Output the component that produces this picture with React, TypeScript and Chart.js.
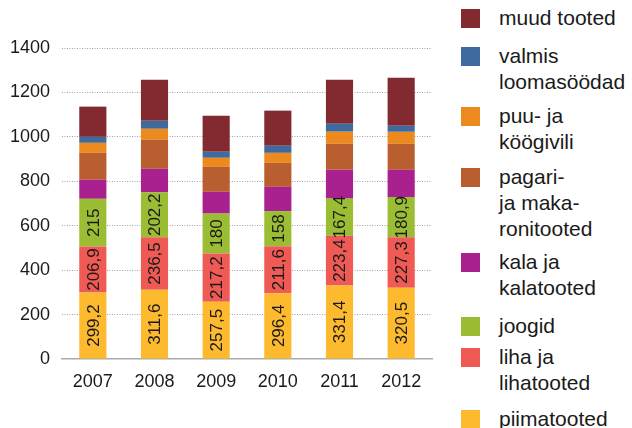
import React, { useEffect, useRef } from "react";
import { Chart, registerables } from "chart.js";

Chart.register(...registerables);

const years = ["2007", "2008", "2009", "2010", "2011", "2012"];

const piimatooted = [299.2, 311.6, 257.5, 296.4, 331.4, 320.5];
const lihatooted = [206.9, 236.5, 217.2, 211.6, 223.4, 227.3];
const joogid = [215, 202.2, 180, 158, 167.4, 180.9];
const kalatooted = [86, 106, 98, 109, 130, 123];
const pagaritooted = [121, 131, 112, 108, 117, 117];
const puuKoogivili = [45, 49, 41, 45, 54, 54];
const loomasoodad = [27, 36, 27, 32, 36, 27];
const muudTooted = [136, 185, 162, 158, 198, 216];

const yTicks = [0, 200, 400, 600, 800, 1000, 1200, 1400];

const seriesNames = [
  "piimatooted",
  "liha ja lihatooted",
  "joogid",
  "kala ja kalatooted",
  "pagari- ja makaronitooted",
  "puu- ja köögivili",
  "valmis loomasöödad",
  "muud tooted",
];
const seriesData = [
  piimatooted,
  lihatooted,
  joogid,
  kalatooted,
  pagaritooted,
  puuKoogivili,
  loomasoodad,
  muudTooted,
];
const seriesColors = [
  "#FDBA2F",
  "#F05A55",
  "#9BBD34",
  "#A9208F",
  "#B95E2E",
  "#ED8A1E",
  "#3F6A9F",
  "#822A2F",
];
const labelledSeries = ["piimatooted", "liha ja lihatooted", "joogid"];

// legend (top to bottom), lines of each label
const legendLines = [
  ["muud tooted"],
  ["valmis", "loomasöödad"],
  ["puu- ja", "köögivili"],
  ["pagari-", "ja maka-", "ronitooted"],
  ["kala ja", "kalatooted"],
  ["joogid"],
  ["liha ja", "lihatooted"],
  ["piimatooted"],
];
const legendColors = [
  "#822A2F",
  "#3F6A9F",
  "#ED8A1E",
  "#B95E2E",
  "#A9208F",
  "#9BBD34",
  "#F05A55",
  "#FDBA2F",
];
const legendTops = [5, 43, 103, 164, 249, 313, 344, 406];

const FONT = "'Liberation Sans', Arial, Helvetica, sans-serif";

const barLabelPlugin = {
  id: "barLabels",
  afterDatasetsDraw(chart: any) {
    const ctx = chart.ctx;
    ctx.save();
    ctx.fillStyle = "#1a1a1a";
    ctx.font = `17px ${FONT}`;
    ctx.textAlign = "center";
    ctx.textBaseline = "middle";
    chart.data.datasets.forEach((ds: any, di: number) => {
      if (!labelledSeries.includes(ds.label)) return;
      const meta = chart.getDatasetMeta(di);
      meta.data.forEach((el: any, i: number) => {
        const v = ds.data[i];
        const text = String(v).replace(".", ",");
        const cy = (el.y + el.base) / 2;
        ctx.save();
        ctx.translate(el.x, cy);
        ctx.rotate(-Math.PI / 2);
        ctx.fillText(text, 0, 1);
        ctx.restore();
      });
    });
    ctx.restore();
  },
};

function BarChart() {
  const ref = useRef<HTMLCanvasElement>(null);
  useEffect(() => {
    if (!ref.current) return;
    const chart = new Chart(ref.current, {
      type: "bar",
      data: {
        labels: years,
        datasets: seriesNames.map((name, i) => ({
          label: name,
          data: seriesData[i],
          backgroundColor: seriesColors[i],
          borderWidth: 0,
          barPercentage: 0.44,
          categoryPercentage: 1,
        })),
      },
      options: {
        animation: false,
        responsive: false,
        maintainAspectRatio: false,
        layout: { padding: { top: 48, right: 8, left: 0, bottom: 0 } },
        plugins: {
          legend: { display: false },
          tooltip: { enabled: false },
        },
        scales: {
          x: {
            stacked: true,
            grid: { display: false, drawTicks: false },
            border: { display: true, color: "#aaaaaa", width: 1.5 },
            ticks: {
              color: "#1a1a1a",
              font: { family: FONT, size: 18 },
              padding: 12,
            },
            afterFit: (s: any) => {
              s.height = 69;
            },
          },
          y: {
            stacked: true,
            min: 0,
            max: 1400,
            afterBuildTicks: (s: any) => {
              s.ticks = yTicks.map((v) => ({ value: v }));
            },
            grid: {
              color: (c: any) => (c.tick && c.tick.value === 0 ? "rgba(0,0,0,0)" : "#a0a0a0"),
              drawTicks: false,
              lineWidth: 1,
            },
            border: { display: false, dash: [1, 1.5] },
            ticks: {
              color: "#1a1a1a",
              font: { family: FONT, size: 18 },
              padding: 12,
              callback: (v: any) => String(v),
            },
            afterFit: (s: any) => {
              s.width = 62;
            },
          },
        },
      },
      plugins: [barLabelPlugin],
    });
    return () => chart.destroy();
  }, []);
  return <canvas ref={ref} width={440} height={428} style={{ position: "absolute", left: 0, top: 0 }} />;
}

export default function App() {
  return (
    <div
      style={{
        position: "absolute",
        left: 0,
        top: 0,
        width: 632,
        height: 428,
        overflow: "hidden",
        background: "#fff",
        fontFamily: FONT,
      }}
    >
      <BarChart />
      {legendLines.map((lines, i) => (
        <div
          key={i}
          style={{ position: "absolute", left: 461, top: legendTops[i], height: lines.length * 26 }}
        >
          <div
            style={{
              position: "absolute",
              left: 0,
              top: 3.5,
              width: 19,
              height: 19,
              background: legendColors[i],
            }}
          />
          <div
            style={{
              position: "absolute",
              left: 38,
              top: 0,
              fontSize: 21,
              lineHeight: "26px",
              color: "#1a1a1a",
              whiteSpace: "nowrap",
            }}
          >
            {lines.map((l, j) => (
              <div key={j}>{l}</div>
            ))}
          </div>
        </div>
      ))}
    </div>
  );
}
